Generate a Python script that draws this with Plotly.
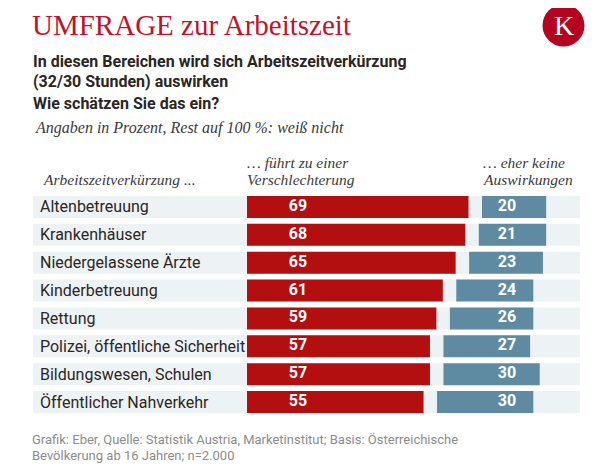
import plotly.graph_objects as go

# ---------------- data ----------------
categories = [
    "Altenbetreuung",
    "Krankenhäuser",
    "Niedergelassene Ärzte",
    "Kinderbetreuung",
    "Rettung",
    "Polizei, öffentliche Sicherheit",
    "Bildungswesen, Schulen",
    "Öffentlicher Nahverkehr",
]
verschlechterung = [69, 68, 65, 61, 59, 57, 57, 55]
keine_auswirkungen = [20, 21, 23, 24, 26, 27, 30, 30]

title = "UMFRAGE zur Arbeitszeit"
subtitle_lines = [
    "In diesen Bereichen wird sich Arbeitszeitverkürzung",
    "(32/30 Stunden) auswirken",
    "Wie schätzen Sie das ein?",
]
note = "Angaben in Prozent, Rest auf 100 %: weiß nicht"
col_label = "Arbeitszeitverkürzung ..."
col_red = ["… führt zu einer", "Verschlechterung"]
col_blue = ["… eher keine", "Auswirkungen"]
source_lines = [
    "Grafik: Eber, Quelle: Statistik Austria, Marketinstitut; Basis: Österreichische",
    "Bevölkerung ab 16 Jahren; n=2.000",
]

# ---------------- styling / geometry ----------------
RED = "#B40F10"
BLUE = "#5F8BA2"
BAND = "#EDF2F5"
TITLE_RED = "#C0132B"
LOGO_RED = "#B5041F"
DARK = "#2B2622"
GREY = "#8C8C8C"
SANS = "Roboto, Noto Sans, sans-serif"
SERIF = "Liberation Serif, DejaVu Serif, serif"

OFF = 8                      # page body margin of the html page
W, H = 616 - OFF, 475 - OFF  # figure size
LEFT_PX, RIGHT_PX = 33, 580  # band extent in page pixels
TOP_PX = 193.1
ROW = 27.8
L = LEFT_PX - OFF
R = W - (RIGHT_PX - OFF)
T = TOP_PX - OFF
plot_h = ROW * len(categories)
plot_w = W - L - R
B = H - T - plot_h
ZERO_PX = 247
PX_PER = 3.21
x_min = (LEFT_PX - ZERO_PX) / PX_PER
x_max = (RIGHT_PX - ZERO_PX) / PX_PER
GAP = 4.2
BARW = 0.79
RED_LABEL_X = (298 - ZERO_PX) / PX_PER
BLUE_LABEL_X = (507 - ZERO_PX) / PX_PER


def px(x):  # page pixel -> paper x
    return (x - OFF - L) / plot_w


def py(y):  # page pixel -> paper y
    return (H - B - (y - OFF)) / plot_h


fig = go.Figure()

fig.add_trace(go.Bar(
    orientation="h", y=categories, x=verschlechterung, base=0,
    width=BARW, marker=dict(color=RED, line=dict(width=0)),
    hoverinfo="skip", showlegend=False,
))
fig.add_trace(go.Bar(
    orientation="h", y=categories, x=keine_auswirkungen,
    base=[v + GAP for v in verschlechterung],
    width=BARW, marker=dict(color=BLUE, line=dict(width=0)),
    hoverinfo="skip", showlegend=False,
))
fig.add_trace(go.Scatter(
    x=[RED_LABEL_X] * len(categories), y=categories, mode="text",
    text=[str(v) for v in verschlechterung],
    textfont=dict(family=SANS, size=16, color="white", weight="bold"),
    textposition="middle center", hoverinfo="skip", showlegend=False,
))
fig.add_trace(go.Scatter(
    x=[BLUE_LABEL_X] * len(categories), y=categories, mode="text",
    text=[str(v) for v in keine_auswirkungen],
    textfont=dict(family=SANS, size=16, color="white", weight="bold"),
    textposition="middle center", hoverinfo="skip", showlegend=False,
))

shapes = []
for i in range(len(categories)):
    shapes.append(dict(
        type="rect", xref="paper", yref="y", x0=0, x1=1,
        y0=i - BARW / 2, y1=i + BARW / 2,
        fillcolor=BAND, line=dict(width=0), layer="below",
    ))
# logo circle
shapes.append(dict(
    type="circle", xref="paper", yref="paper",
    x0=px(563.5 - 21), x1=px(563.5 + 21), y0=py(26 + 21), y1=py(26 - 21),
    fillcolor=LOGO_RED, line=dict(width=0),
))

ann = []
for c in categories:
    ann.append(dict(
        text=c, xref="paper", x=0, xanchor="left", xshift=5,
        yref="y", y=c, yanchor="middle", showarrow=False,
        font=dict(family=SANS, size=16, color=DARK),
    ))


def text_at(t, x, y, font, xanchor="left"):
    ann.append(dict(
        text=t, xref="paper", yref="paper", x=px(x), y=py(y),
        xanchor=xanchor, yanchor="middle", showarrow=False, font=font,
    ))


ITAL = dict(family=SERIF, size=16, color="#3A3A3A", style="italic")
ITAL_H = dict(family=SERIF, size=15.5, color="#3A3A3A", style="italic")
text_at(title, 30, 26, dict(family=SERIF, size=29, color=TITLE_RED))
text_at("K", 563.5, 26, dict(family=SERIF, size=28, color="white"), xanchor="center")
for t, y in zip(subtitle_lines, [61.5, 81.5, 103.5]):
    text_at(t, 31, y, dict(family=SANS, size=16, color=DARK, weight="bold"))
text_at(note, 33, 128, ITAL)
text_at(col_label, 41, 180, ITAL_H)
for t, y in zip(col_red, [163, 180]):
    text_at(t, 245, y, ITAL_H)
for t, y in zip(col_blue, [163, 180]):
    text_at(t, 481, y, ITAL_H)
for t, y in zip(source_lines, [438.5, 454.5]):
    text_at(t, 30, y, dict(family=SANS, size=13, color=GREY))

fig.update_layout(
    width=W, height=H, autosize=False,
    margin=dict(l=L, r=R, t=T, b=B, pad=0),
    paper_bgcolor="white", plot_bgcolor="white",
    barmode="overlay",
    xaxis=dict(range=[x_min, x_max], visible=False, fixedrange=True),
    yaxis=dict(type="category", categoryorder="array", categoryarray=categories,
               range=[len(categories) - 0.5, -0.5], visible=False, fixedrange=True),
    shapes=shapes, annotations=ann, showlegend=False,
)

fig.write_html("out.html")
